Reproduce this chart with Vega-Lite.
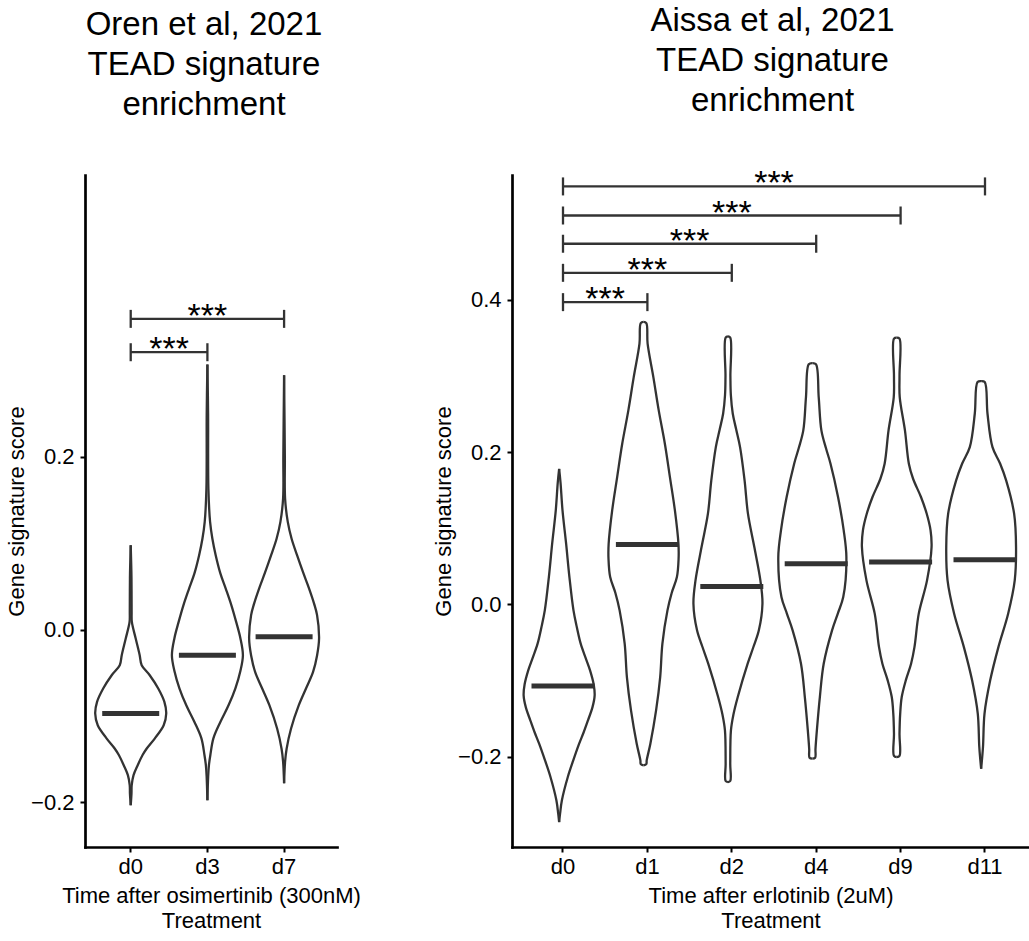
{
  "$schema": "https://vega.github.io/schema/vega-lite/v6.json",
  "padding": {"left": 5, "top": 5, "right": 0, "bottom": 0},
  "background": "white",
  "datasets": {
    "oren_v": [
      {"g":"d0","y":0.0976,"l":0,"r":0},
      {"g":"d0","y":0.06,"l":-0.01,"r":0.01},
      {"g":"d0","y":0.02,"l":-0.012,"r":0.012},
      {"g":"d0","y":0.0088,"l":-0.015,"r":0.015},
      {"g":"d0","y":-0.0104,"l":-0.065,"r":0.065},
      {"g":"d0","y":-0.0297,"l":-0.117,"r":0.117},
      {"g":"d0","y":-0.0413,"l":-0.143,"r":0.143},
      {"g":"d0","y":-0.0529,"l":-0.248,"r":0.248},
      {"g":"d0","y":-0.0683,"l":-0.359,"r":0.359},
      {"g":"d0","y":-0.0838,"l":-0.439,"r":0.439},
      {"g":"d0","y":-0.0972,"l":-0.463,"r":0.463},
      {"g":"d0","y":-0.1108,"l":-0.43,"r":0.43},
      {"g":"d0","y":-0.1262,"l":-0.313,"r":0.313},
      {"g":"d0","y":-0.1377,"l":-0.209,"r":0.209},
      {"g":"d0","y":-0.1455,"l":-0.153,"r":0.153},
      {"g":"d0","y":-0.1571,"l":-0.091,"r":0.091},
      {"g":"d0","y":-0.1686,"l":-0.037,"r":0.037},
      {"g":"d0","y":-0.1802,"l":-0.013,"r":0.013},
      {"g":"d0","y":-0.19,"l":-0.01,"r":0.01},
      {"g":"d0","y":-0.2034,"l":0,"r":0},
      {"g":"d3","y":0.3067,"l":0,"r":0},
      {"g":"d3","y":0.25,"l":-0.009,"r":0.009},
      {"g":"d3","y":0.163,"l":-0.013,"r":0.013},
      {"g":"d3","y":0.1245,"l":-0.035,"r":0.035},
      {"g":"d3","y":0.105,"l":-0.065,"r":0.065},
      {"g":"d3","y":0.086,"l":-0.108,"r":0.108},
      {"g":"d3","y":0.065,"l":-0.169,"r":0.169},
      {"g":"d3","y":0.0474,"l":-0.239,"r":0.239},
      {"g":"d3","y":0.028,"l":-0.313,"r":0.313},
      {"g":"d3","y":0.0088,"l":-0.375,"r":0.375},
      {"g":"d3","y":-0.01,"l":-0.43,"r":0.43},
      {"g":"d3","y":-0.0297,"l":-0.463,"r":0.463},
      {"g":"d3","y":-0.048,"l":-0.43,"r":0.43},
      {"g":"d3","y":-0.068,"l":-0.365,"r":0.365},
      {"g":"d3","y":-0.088,"l":-0.274,"r":0.274},
      {"g":"d3","y":-0.107,"l":-0.169,"r":0.169},
      {"g":"d3","y":-0.126,"l":-0.078,"r":0.078},
      {"g":"d3","y":-0.145,"l":-0.039,"r":0.039},
      {"g":"d3","y":-0.157,"l":-0.02,"r":0.02},
      {"g":"d3","y":-0.17,"l":-0.01,"r":0.01},
      {"g":"d3","y":-0.1975,"l":0,"r":0},
      {"g":"d7","y":0.2943,"l":0,"r":0},
      {"g":"d7","y":0.2,"l":-0.01,"r":0.01},
      {"g":"d7","y":0.1516,"l":-0.013,"r":0.013},
      {"g":"d7","y":0.1245,"l":-0.048,"r":0.048},
      {"g":"d7","y":0.105,"l":-0.098,"r":0.098},
      {"g":"d7","y":0.086,"l":-0.169,"r":0.169},
      {"g":"d7","y":0.066,"l":-0.248,"r":0.248},
      {"g":"d7","y":0.0474,"l":-0.326,"r":0.326},
      {"g":"d7","y":0.03,"l":-0.391,"r":0.391},
      {"g":"d7","y":0.0166,"l":-0.43,"r":0.43},
      {"g":"d7","y":-0.0104,"l":-0.456,"r":0.456},
      {"g":"d7","y":-0.03,"l":-0.43,"r":0.43},
      {"g":"d7","y":-0.049,"l":-0.378,"r":0.378},
      {"g":"d7","y":-0.068,"l":-0.287,"r":0.287},
      {"g":"d7","y":-0.0876,"l":-0.192,"r":0.192},
      {"g":"d7","y":-0.1146,"l":-0.091,"r":0.091},
      {"g":"d7","y":-0.138,"l":-0.033,"r":0.033},
      {"g":"d7","y":-0.153,"l":-0.013,"r":0.013},
      {"g":"d7","y":-0.178,"l":0,"r":0}
    ],
    "oren_m": [
      {"g":"d0","median":-0.0972},
      {"g":"d3","median":-0.0297},
      {"g":"d7","median":-0.0085}
    ],
    "oren_b": [
      {"pair":"d0-d3","g":"d0","idx":1,"level":0.3209,"lab":"***"},
      {"pair":"d0-d3","g":"d3","idx":2,"level":0.3209,"lab":"***"},
      {"pair":"d0-d7","g":"d0","idx":1,"level":0.3595,"lab":"***"},
      {"pair":"d0-d7","g":"d7","idx":3,"level":0.3595,"lab":"***"}
    ],
    "aissa_v": [
      {"g":"d0","y":0.178,"l":0,"r":0},
      {"g":"d0","y":0.16,"l":-0.018,"r":0.018},
      {"g":"d0","y":0.1234,"l":-0.044,"r":0.044},
      {"g":"d0","y":0.0797,"l":-0.091,"r":0.091},
      {"g":"d0","y":0.0359,"l":-0.134,"r":0.134},
      {"g":"d0","y":-0.0079,"l":-0.187,"r":0.187},
      {"g":"d0","y":-0.03,"l":-0.231,"r":0.231},
      {"g":"d0","y":-0.0516,"l":-0.281,"r":0.281},
      {"g":"d0","y":-0.07,"l":-0.344,"r":0.344},
      {"g":"d0","y":-0.0867,"l":-0.403,"r":0.403},
      {"g":"d0","y":-0.105,"l":-0.45,"r":0.45},
      {"g":"d0","y":-0.1195,"l":-0.463,"r":0.463},
      {"g":"d0","y":-0.135,"l":-0.435,"r":0.435},
      {"g":"d0","y":-0.1523,"l":-0.376,"r":0.376},
      {"g":"d0","y":-0.168,"l":-0.32,"r":0.32},
      {"g":"d0","y":-0.183,"l":-0.261,"r":0.261},
      {"g":"d0","y":-0.205,"l":-0.184,"r":0.184},
      {"g":"d0","y":-0.2268,"l":-0.113,"r":0.113},
      {"g":"d0","y":-0.2574,"l":-0.036,"r":0.036},
      {"g":"d0","y":-0.275,"l":-0.012,"r":0.012},
      {"g":"d0","y":-0.2859,"l":0,"r":0},
      {"g":"d1","y":0.371,"l":0,"r":0},
      {"g":"d1","y":0.3695,"l":-0.036,"r":0.036},
      {"g":"d1","y":0.3424,"l":-0.053,"r":0.053},
      {"g":"d1","y":0.2985,"l":-0.128,"r":0.128},
      {"g":"d1","y":0.2548,"l":-0.198,"r":0.198},
      {"g":"d1","y":0.211,"l":-0.278,"r":0.278},
      {"g":"d1","y":0.1672,"l":-0.344,"r":0.344},
      {"g":"d1","y":0.1234,"l":-0.409,"r":0.409},
      {"g":"d1","y":0.0797,"l":-0.455,"r":0.455},
      {"g":"d1","y":0.06,"l":-0.457,"r":0.457},
      {"g":"d1","y":0.0359,"l":-0.435,"r":0.435},
      {"g":"d1","y":0.015,"l":-0.367,"r":0.367},
      {"g":"d1","y":-0.0079,"l":-0.312,"r":0.312},
      {"g":"d1","y":-0.0516,"l":-0.246,"r":0.246},
      {"g":"d1","y":-0.0955,"l":-0.217,"r":0.217},
      {"g":"d1","y":-0.139,"l":-0.164,"r":0.164},
      {"g":"d1","y":-0.183,"l":-0.089,"r":0.089},
      {"g":"d1","y":-0.205,"l":-0.041,"r":0.041},
      {"g":"d1","y":-0.2099,"l":-0.036,"r":0.036},
      {"g":"d1","y":-0.2114,"l":0,"r":0},
      {"g":"d2","y":0.352,"l":0,"r":0},
      {"g":"d2","y":0.3505,"l":-0.03,"r":0.03},
      {"g":"d2","y":0.3,"l":-0.032,"r":0.032},
      {"g":"d2","y":0.275,"l":-0.038,"r":0.038},
      {"g":"d2","y":0.2504,"l":-0.063,"r":0.063},
      {"g":"d2","y":0.23,"l":-0.107,"r":0.107},
      {"g":"d2","y":0.2066,"l":-0.158,"r":0.158},
      {"g":"d2","y":0.1628,"l":-0.217,"r":0.217},
      {"g":"d2","y":0.1191,"l":-0.261,"r":0.261},
      {"g":"d2","y":0.0753,"l":-0.344,"r":0.344},
      {"g":"d2","y":0.0315,"l":-0.423,"r":0.423},
      {"g":"d2","y":0.0009,"l":-0.45,"r":0.45},
      {"g":"d2","y":-0.0341,"l":-0.403,"r":0.403},
      {"g":"d2","y":-0.056,"l":-0.332,"r":0.332},
      {"g":"d2","y":-0.0779,"l":-0.257,"r":0.257},
      {"g":"d2","y":-0.1217,"l":-0.128,"r":0.128},
      {"g":"d2","y":-0.145,"l":-0.071,"r":0.071},
      {"g":"d2","y":-0.1655,"l":-0.039,"r":0.039},
      {"g":"d2","y":-0.2092,"l":-0.03,"r":0.03},
      {"g":"d2","y":-0.232,"l":-0.03,"r":0.03},
      {"g":"d2","y":-0.2334,"l":0,"r":0},
      {"g":"d4","y":0.317,"l":0,"r":0},
      {"g":"d4","y":0.3155,"l":-0.047,"r":0.047},
      {"g":"d4","y":0.2723,"l":-0.083,"r":0.083},
      {"g":"d4","y":0.2285,"l":-0.118,"r":0.118},
      {"g":"d4","y":0.205,"l":-0.178,"r":0.178},
      {"g":"d4","y":0.1848,"l":-0.237,"r":0.237},
      {"g":"d4","y":0.141,"l":-0.335,"r":0.335},
      {"g":"d4","y":0.0972,"l":-0.409,"r":0.409},
      {"g":"d4","y":0.0621,"l":-0.444,"r":0.444},
      {"g":"d4","y":0.0096,"l":-0.403,"r":0.403},
      {"g":"d4","y":-0.012,"l":-0.332,"r":0.332},
      {"g":"d4","y":-0.0341,"l":-0.257,"r":0.257},
      {"g":"d4","y":-0.0779,"l":-0.148,"r":0.148},
      {"g":"d4","y":-0.1217,"l":-0.098,"r":0.098},
      {"g":"d4","y":-0.1655,"l":-0.059,"r":0.059},
      {"g":"d4","y":-0.19,"l":-0.041,"r":0.041},
      {"g":"d4","y":-0.2015,"l":-0.036,"r":0.036},
      {"g":"d4","y":-0.2027,"l":0,"r":0},
      {"g":"d9","y":0.3503,"l":0,"r":0},
      {"g":"d9","y":0.349,"l":-0.036,"r":0.036},
      {"g":"d9","y":0.3,"l":-0.036,"r":0.036},
      {"g":"d9","y":0.2723,"l":-0.039,"r":0.039},
      {"g":"d9","y":0.2285,"l":-0.107,"r":0.107},
      {"g":"d9","y":0.1848,"l":-0.158,"r":0.158},
      {"g":"d9","y":0.165,"l":-0.213,"r":0.213},
      {"g":"d9","y":0.141,"l":-0.316,"r":0.316},
      {"g":"d9","y":0.119,"l":-0.391,"r":0.391},
      {"g":"d9","y":0.0972,"l":-0.441,"r":0.441},
      {"g":"d9","y":0.0753,"l":-0.454,"r":0.454},
      {"g":"d9","y":0.0315,"l":-0.395,"r":0.395},
      {"g":"d9","y":-0.0122,"l":-0.287,"r":0.287},
      {"g":"d9","y":-0.0561,"l":-0.231,"r":0.231},
      {"g":"d9","y":-0.0779,"l":-0.187,"r":0.187},
      {"g":"d9","y":-0.0998,"l":-0.118,"r":0.118},
      {"g":"d9","y":-0.1217,"l":-0.065,"r":0.065},
      {"g":"d9","y":-0.1435,"l":-0.045,"r":0.045},
      {"g":"d9","y":-0.17,"l":-0.036,"r":0.036},
      {"g":"d9","y":-0.199,"l":-0.036,"r":0.036},
      {"g":"d9","y":-0.2005,"l":0,"r":0},
      {"g":"d11","y":0.2933,"l":0,"r":0},
      {"g":"d11","y":0.292,"l":-0.047,"r":0.047},
      {"g":"d11","y":0.2504,"l":-0.083,"r":0.083},
      {"g":"d11","y":0.2066,"l":-0.148,"r":0.148},
      {"g":"d11","y":0.185,"l":-0.247,"r":0.247},
      {"g":"d11","y":0.1628,"l":-0.326,"r":0.326},
      {"g":"d11","y":0.1191,"l":-0.43,"r":0.43},
      {"g":"d11","y":0.0753,"l":-0.455,"r":0.455},
      {"g":"d11","y":0.0315,"l":-0.438,"r":0.438},
      {"g":"d11","y":-0.0122,"l":-0.352,"r":0.352},
      {"g":"d11","y":-0.0561,"l":-0.225,"r":0.225},
      {"g":"d11","y":-0.0998,"l":-0.118,"r":0.118},
      {"g":"d11","y":-0.1435,"l":-0.044,"r":0.044},
      {"g":"d11","y":-0.1873,"l":-0.024,"r":0.024},
      {"g":"d11","y":-0.2159,"l":0,"r":0}
    ],
    "aissa_m": [
      {"g":"d0","median":-0.1073},
      {"g":"d1","median":0.0788},
      {"g":"d2","median":0.0236},
      {"g":"d4","median":0.0534},
      {"g":"d9","median":0.0556},
      {"g":"d11","median":0.0587}
    ],
    "aissa_b": [
      {"pair":"d0-d1","g":"d0","idx":1,"level":0.397,"lab":"***"},
      {"pair":"d0-d1","g":"d1","idx":2,"level":0.397,"lab":"***"},
      {"pair":"d0-d2","g":"d0","idx":1,"level":0.4355,"lab":"***"},
      {"pair":"d0-d2","g":"d2","idx":3,"level":0.4355,"lab":"***"},
      {"pair":"d0-d4","g":"d0","idx":1,"level":0.4737,"lab":"***"},
      {"pair":"d0-d4","g":"d4","idx":4,"level":0.4737,"lab":"***"},
      {"pair":"d0-d9","g":"d0","idx":1,"level":0.5108,"lab":"***"},
      {"pair":"d0-d9","g":"d9","idx":5,"level":0.5108,"lab":"***"},
      {"pair":"d0-d11","g":"d0","idx":1,"level":0.549,"lab":"***"},
      {"pair":"d0-d11","g":"d11","idx":6,"level":0.549,"lab":"***"}
    ]
  },
  "hconcat": [
    {
      "width": 252,
      "height": 672,
      "title": {"text": ["Oren et al, 2021", "TEAD signature", "enrichment"], "dx": -7, "offset": 53},
      "layer": [
        {
          "layer": [
            {
              "data": {"name": "oren_v"},
              "transform": [{"fold": ["l", "r"], "as": ["side", "off"]}],
              "mark": {"type": "line", "color": "#333333", "strokeWidth": 2.3, "interpolate": "catmull-rom", "strokeJoin": "round"},
              "encoding": {
                "x": {"field": "g", "type": "nominal", "title": ["Time after osimertinib (300nM)", "Treatment"],
                      "scale": {"type": "band", "domain": ["d0", "d3", "d7"], "paddingInner": 0, "paddingOuter": 0.143, "align": 0.336, "round": false}},
                "xOffset": {"field": "off", "type": "quantitative", "scale": {"domain": [-0.5, 0.5], "nice": false, "zero": false}},
                "y": {"field": "y", "type": "quantitative", "title": "Gene signature score",
                      "scale": {"domain": [-0.2517, 0.526], "nice": false, "zero": false},
                      "axis": {"values": [-0.2, 0, 0.2], "format": ".1f"}},
                "detail": [{"field": "g"}, {"field": "side"}],
                "order": {"field": "y", "type": "quantitative"}
              }
            },
            {
              "data": {"name": "oren_m"},
              "mark": {"type": "tick", "color": "#333333", "thickness": 5, "size": 57, "opacity": 1},
              "encoding": {
                "x": {"field": "g", "type": "nominal", "title": ["Time after osimertinib (300nM)", "Treatment"]},
                "y": {"field": "median", "type": "quantitative", "title": "Gene signature score"}
              }
            },
            {
              "data": {"name": "oren_b"},
              "mark": {"type": "line", "color": "#333333", "strokeWidth": 2.3},
              "encoding": {
                "x": {"field": "g", "type": "nominal", "title": ["Time after osimertinib (300nM)", "Treatment"]},
                "y": {"field": "level", "type": "quantitative", "title": "Gene signature score"},
                "detail": {"field": "pair"}
              }
            },
            {
              "data": {"name": "oren_b"},
              "mark": {"type": "point", "shape": "M0,-1L0,1", "size": 324, "filled": false, "stroke": "#333333", "strokeWidth": 2.3, "opacity": 1},
              "encoding": {
                "x": {"field": "g", "type": "nominal", "title": ["Time after osimertinib (300nM)", "Treatment"]},
                "y": {"field": "level", "type": "quantitative", "title": "Gene signature score"}
              }
            }
          ]
        },
        {
          "data": {"name": "oren_b"},
          "mark": {"type": "text", "fontSize": 34, "color": "#000000", "baseline": "alphabetic", "dy": 8},
          "encoding": {
            "x": {"aggregate": "mean", "field": "idx", "type": "quantitative", "axis": null,
                  "scale": {"domain": [0.404, 3.69], "nice": false, "zero": false}},
            "y": {"field": "level", "type": "quantitative", "title": "Gene signature score"},
            "text": {"field": "lab"},
            "detail": {"field": "pair"}
          }
        }
      ],
      "resolve": {"scale": {"x": "independent"}}
    },
    {
      "width": 517,
      "height": 672,
      "title": {"text": ["Aissa et al, 2021", "TEAD signature", "enrichment"], "dx": 2, "offset": 49},
      "layer": [
        {
          "layer": [
            {
              "data": {"name": "aissa_v"},
              "transform": [{"fold": ["l", "r"], "as": ["side", "off"]}],
              "mark": {"type": "line", "color": "#333333", "strokeWidth": 2.3, "interpolate": "catmull-rom", "strokeJoin": "round"},
              "encoding": {
                "x": {"field": "g", "type": "nominal", "title": ["Time after erlotinib (2uM)", "Treatment"],
                      "scale": {"type": "band", "domain": ["d0", "d1", "d2", "d4", "d9", "d11"], "paddingInner": 0, "paddingOuter": 0.0628, "align": 0.83, "round": false}},
                "xOffset": {"field": "off", "type": "quantitative", "scale": {"domain": [-0.5, 0.5], "nice": false, "zero": false}},
                "y": {"field": "y", "type": "quantitative", "title": "Gene signature score",
                      "scale": {"domain": [-0.3187, 0.564], "nice": false, "zero": false},
                      "axis": {"values": [-0.2, 0, 0.2, 0.4], "format": ".1f"}},
                "detail": [{"field": "g"}, {"field": "side"}],
                "order": {"field": "y", "type": "quantitative"}
              }
            },
            {
              "data": {"name": "aissa_m"},
              "mark": {"type": "tick", "color": "#333333", "thickness": 5, "size": 63, "opacity": 1},
              "encoding": {
                "x": {"field": "g", "type": "nominal", "title": ["Time after erlotinib (2uM)", "Treatment"]},
                "y": {"field": "median", "type": "quantitative", "title": "Gene signature score"}
              }
            },
            {
              "data": {"name": "aissa_b"},
              "mark": {"type": "line", "color": "#333333", "strokeWidth": 2.3},
              "encoding": {
                "x": {"field": "g", "type": "nominal", "title": ["Time after erlotinib (2uM)", "Treatment"]},
                "y": {"field": "level", "type": "quantitative", "title": "Gene signature score"},
                "detail": {"field": "pair"}
              }
            },
            {
              "data": {"name": "aissa_b"},
              "mark": {"type": "point", "shape": "M0,-1L0,1", "size": 324, "filled": false, "stroke": "#333333", "strokeWidth": 2.3, "opacity": 1},
              "encoding": {
                "x": {"field": "g", "type": "nominal", "title": ["Time after erlotinib (2uM)", "Treatment"]},
                "y": {"field": "level", "type": "quantitative", "title": "Gene signature score"}
              }
            }
          ]
        },
        {
          "data": {"name": "aissa_b"},
          "mark": {"type": "text", "fontSize": 34, "color": "#000000", "baseline": "alphabetic", "dy": 8},
          "encoding": {
            "x": {"aggregate": "mean", "field": "idx", "type": "quantitative", "axis": null,
                  "scale": {"domain": [0.3957, 6.5213], "nice": false, "zero": false}},
            "y": {"field": "level", "type": "quantitative", "title": "Gene signature score"},
            "text": {"field": "lab"},
            "detail": {"field": "pair"}
          }
        }
      ],
      "resolve": {"scale": {"x": "independent"}}
    }
  ],
  "spacing": 175,
  "bounds": "flush",
  "config": {
    "font": "Liberation Sans",
    "view": {"stroke": null},
    "axis": {
      "domainColor": "#000000", "domainWidth": 2.7, "domainCap": "square",
      "tickColor": "#000000", "tickWidth": 2, "tickSize": 5,
      "labelColor": "#000000", "labelFontSize": 22, "labelFont": "Liberation Sans",
      "titleColor": "#000000", "titleFontSize": 22, "titleFontWeight": "normal", "titleFont": "Liberation Sans",
      "grid": false
    },
    "axisX": {"labelAngle": 0, "labelPadding": 4, "titlePadding": 8, "titleLineHeight": 25},
    "axisY": {"labelPadding": 6, "titlePadding": 2},
    "title": {"fontSize": 33, "lineHeight": 40, "fontWeight": "normal", "color": "#000000", "anchor": "middle", "frame": "group", "font": "Liberation Sans"}
  }
}
